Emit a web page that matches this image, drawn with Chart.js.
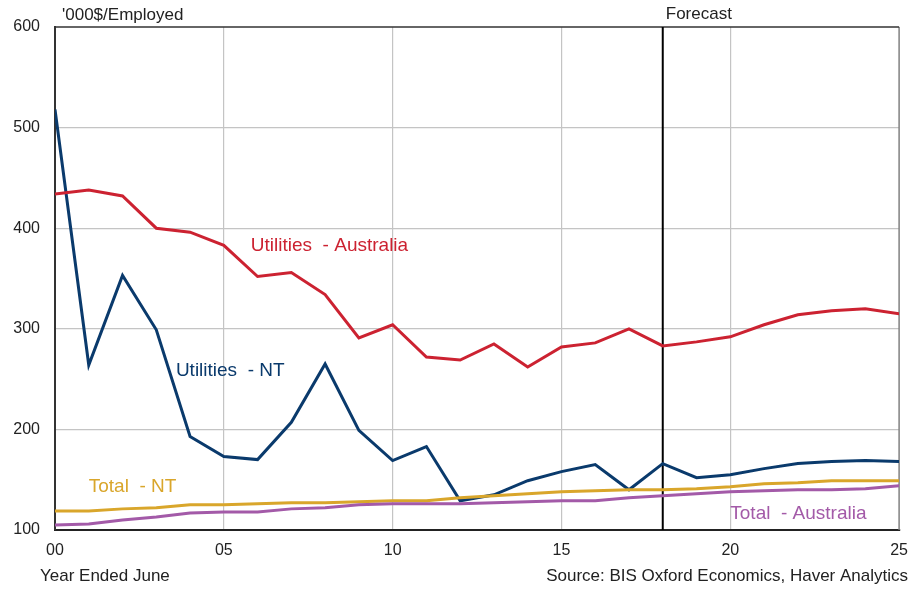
<!DOCTYPE html>
<html>
<head>
<meta charset="utf-8">
<script src="https://cdn.jsdelivr.net/npm/chart.js@4"></script>
<style>
  html, body { margin: 0; padding: 0; background: #fff; }
  #wrap { width: 919px; height: 589px; }
</style>
</head>
<body>
<div id="wrap"><canvas id="chart" width="919" height="589"></canvas></div>
<script>
// Year ended June, 2000-2025
const years = [0,1,2,3,4,5,6,7,8,9,10,11,12,13,14,15,16,17,18,19,20,21,22,23,24,25];
const utilitiesAus = [434,438,432,400,396,383,352,356,334,291,304,272,269,285,262,282,286,300,283,287,292,304,314,318,320,315];
const utilitiesNT = [518,264,353,299,193,173,170,207,265,199,169,183,129,135,149,158,165,140,166,152,155,161,166,168,169,168];
const totalNT = [119,119,121,122,125,125,126,127,127,128,129,129,132,134,136,138,139,140,140,141,143,146,147,149,149,149];
const totalAus = [105,106,110,113,117,118,118,121,122,125,126,126,126,127,128,129,129,132,134,136,138,139,140,140,141,144];
const yTicks = [100, 200, 300, 400, 500, 600];
const forecastYear = 18;

const FONT = '"Liberation Sans", Arial, sans-serif';
const RED = '#cc2231', BLUE = '#0a3a6c', GOLD = '#d9a62b', PURPLE = '#a35aa8';

const toPoints = vals => years.map((yr, i) => ({ x: yr, y: vals[i] }));

// Series labels, placed in data units (x = year, y = value)
const seriesLabels = [
    { text: 'Utilities  - Australia', x: 5.8, y: 383, color: RED },
    { text: 'Utilities  - NT', x: 3.58, y: 258, color: BLUE },
    { text: 'Total  - NT', x: 1.0, y: 143, color: GOLD },
    { text: 'Total  - Australia', x: 20.0, y: 116, color: PURPLE }
];

const decorations = {
    id: 'decorations',
    beforeDatasetsDraw(chart) {
        const { ctx, chartArea: a, scales: { x } } = chart;
        ctx.save();
        // right border (grey)
        ctx.strokeStyle = '#808080';
        ctx.lineWidth = 1.5;
        ctx.beginPath();
        ctx.moveTo(a.right, a.top);
        ctx.lineTo(a.right, a.bottom);
        ctx.stroke();
        // top border
        ctx.strokeStyle = '#333';
        ctx.lineWidth = 1.5;
        ctx.beginPath();
        ctx.moveTo(a.left, a.top);
        ctx.lineTo(a.right, a.top);
        ctx.stroke();
        // forecast line
        const fx = x.getPixelForValue(forecastYear);
        ctx.strokeStyle = '#000';
        ctx.lineWidth = 2;
        ctx.beginPath();
        ctx.moveTo(fx, a.top);
        ctx.lineTo(fx, a.bottom);
        ctx.stroke();
        ctx.restore();
    },
    afterDraw(chart) {
        const { ctx, chartArea: a, scales: { x, y } } = chart;
        ctx.save();
        ctx.font = '17px ' + FONT;
        ctx.textBaseline = 'middle';
        ctx.fillStyle = '#222';
        ctx.textAlign = 'left';
        ctx.fillText("'000$/Employed", a.left + 7, 15);
        ctx.fillText('Forecast', x.getPixelForValue(forecastYear) + 3, 14);
        ctx.fillText('Year Ended June', 40, 576);
        ctx.textAlign = 'right';
        ctx.fillText('Source: BIS Oxford Economics, Haver Analytics', 908, 576);
        ctx.textAlign = 'left';
        ctx.font = '19px ' + FONT;
        seriesLabels.forEach(l => {
            ctx.fillStyle = l.color;
            ctx.fillText(l.text, x.getPixelForValue(l.x), y.getPixelForValue(l.y));
        });
        ctx.restore();
    }
};

const lineStyle = color => ({
    borderColor: color,
    backgroundColor: color,
    borderWidth: 3,
    pointRadius: 0,
    tension: 0,
    fill: false
});

new Chart(document.getElementById('chart'), {
    type: 'line',
    data: {
        datasets: [
            { label: 'Total - Australia', data: toPoints(totalAus), ...lineStyle(PURPLE) },
            { label: 'Total - NT', data: toPoints(totalNT), ...lineStyle(GOLD) },
            { label: 'Utilities - Australia', data: toPoints(utilitiesAus), ...lineStyle(RED) },
            { label: 'Utilities - NT', data: toPoints(utilitiesNT), ...lineStyle(BLUE) }
        ]
    },
    options: {
        responsive: false,
        animation: false,
        layout: { padding: { top: 27, right: 19, left: 0, bottom: 0 } },
        plugins: { legend: { display: false }, tooltip: { enabled: false } },
        scales: {
            x: {
                type: 'linear',
                min: years[0],
                max: years[years.length - 1],
                afterFit: s => { s.height = 59; },
                afterBuildTicks: s => { s.ticks = [0, 5, 10, 15, 20, 25].map(v => ({ value: v })); },
                ticks: {
                    color: '#222',
                    font: { family: FONT, size: 16 },
                    padding: 11,
                    maxRotation: 0,
                    callback: v => String(v).padStart(2, '0')
                },
                grid: {
                    drawTicks: false,
                    color: c => (c.tick.value === 0 || c.tick.value === 25) ? 'rgba(0,0,0,0)' : '#c4c4c4',
                    lineWidth: 1.2
                },
                border: { color: '#222', width: 2 }
            },
            y: {
                min: yTicks[0],
                max: yTicks[yTicks.length - 1],
                afterFit: s => { s.width = 55; },
                afterBuildTicks: s => { s.ticks = yTicks.map(v => ({ value: v })); },
                ticks: {
                    color: '#222',
                    font: { family: FONT, size: 16 },
                    padding: 15
                },
                grid: {
                    drawTicks: false,
                    color: c => (c.tick.value === 100 || c.tick.value === 600) ? 'rgba(0,0,0,0)' : '#c4c4c4',
                    lineWidth: 1.2
                },
                border: { color: '#333', width: 2 }
            }
        }
    },
    plugins: [decorations]
});
</script>
</body>
</html>
